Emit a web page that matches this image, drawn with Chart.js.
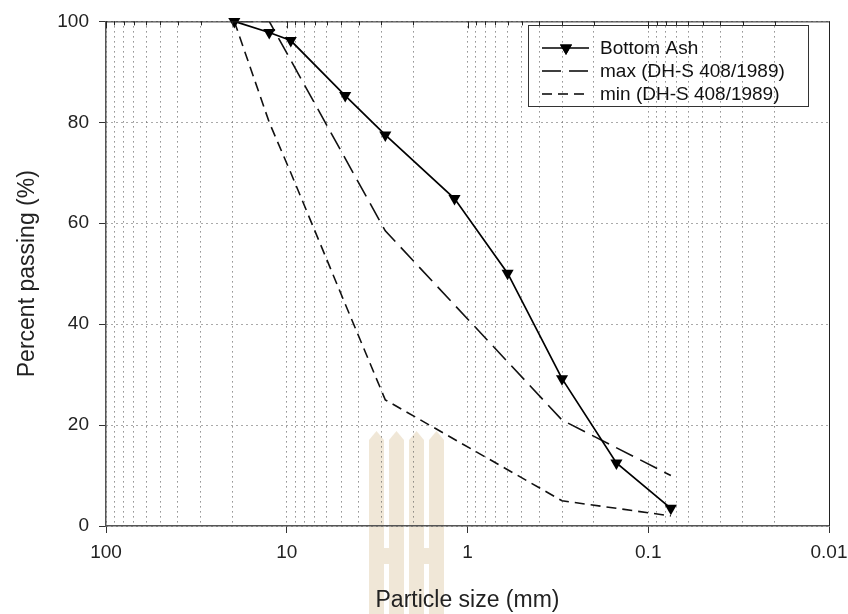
<!DOCTYPE html>
<html>
<head>
<meta charset="utf-8">
<script src="https://cdn.jsdelivr.net/npm/chart.js@4.4.1/dist/chart.umd.min.js"></script>
<style>
  html, body { margin: 0; padding: 0; background: #fff; }
  #wrap { width: 848px; height: 614px; }
</style>
</head>
<body>
<div id="wrap"><canvas id="sieveChart" width="848" height="614"></canvas></div>
<script>
// Grain size data (sieve size in mm, percent passing)
const ashSize = [19.5, 12.5, 9.5, 4.75, 2.85, 1.18, 0.6, 0.3, 0.15, 0.075];
const ashPassing = [100, 97.8, 96.2, 85.3, 77.5, 64.9, 50.1, 29.2, 12.5, 3.5];

const maxSize = [19.5, 12.5, 2.85, 0.3, 0.075];
const maxPassing = [100, 100, 58.5, 21, 10];

const minSize = [19.5, 12.5, 9.5, 4.75, 2.85, 0.3, 0.075];
const minPassing = [100, 80, 70, 44, 25, 5, 2];

const xMajor = [100, 10, 1, 0.1, 0.01];
const xLabels = ['100', '10', '1', '0.1', '0.01'];
const yTicks = [0, 20, 40, 60, 80, 100];

const seriesNames = ['Bottom Ash', 'max (DH-S 408/1989)', 'min (DH-S 408/1989)'];

const FONT = "'Liberation Sans', Arial, sans-serif";

// all 1..9 x 10^k positions between 0.01 and 100
const xTicks = [];
xMajor.slice(1).forEach(function(dec) {
  for (let k = 1; k <= 9; k++) xTicks.push(dec * k);
});
xTicks.push(100);

function toPoints(xs, ys) {
  return xs.map((x, i) => ({ x: x, y: ys[i] }));
}

function isMajor(v) {
  return xMajor.some(m => Math.abs(v - m) / m < 1e-6);
}

// Background and the faint logo behind the plot
const backdrop = {
  id: 'backdrop',
  beforeDraw(chart) {
    const ctx = chart.ctx;
    ctx.save();
    ctx.fillStyle = '#fff';
    ctx.fillRect(0, 0, chart.width, chart.height);
    ctx.fillStyle = 'rgba(226, 208, 176, 0.5)';
    const pillars = [[369, 384], [389, 404], [409, 424], [429, 444]];
    pillars.forEach(function(p) {
      ctx.beginPath();
      ctx.moveTo(p[0], 614);
      ctx.lineTo(p[0], 440);
      ctx.lineTo((p[0] + p[1]) / 2, 431);
      ctx.lineTo(p[1], 440);
      ctx.lineTo(p[1], 614);
      ctx.closePath();
      ctx.fill();
    });
    ctx.fillRect(384, 548, 5, 16);
    ctx.fillRect(424, 548, 5, 16);
    ctx.restore();
  }
};

// Top and right frame lines with inward ticks, plus the legend box
const frame = {
  id: 'frame',
  afterDraw(chart) {
    const ctx = chart.ctx;
    const a = chart.chartArea;
    const xs = chart.scales.x;
    ctx.save();
    ctx.strokeStyle = '#222';
    ctx.lineWidth = 1;
    ctx.beginPath();
    ctx.moveTo(a.left, a.top + 0.5);
    ctx.lineTo(a.right + 0.5, a.top + 0.5);
    ctx.lineTo(a.right + 0.5, a.bottom);
    ctx.stroke();
    xTicks.forEach(function(v) {
      const px = Math.round(xs.getPixelForValue(v)) + 0.5;
      const len = isMajor(v) ? 7 : 4;
      ctx.beginPath();
      ctx.moveTo(px, a.top);
      ctx.lineTo(px, a.top + len);
      ctx.stroke();
    });

    // legend
    const box = { left: 528.5, top: 25.5, right: 808.5, bottom: 106.5 };
    ctx.strokeStyle = '#333';
    ctx.lineWidth = 1;
    ctx.strokeRect(box.left, box.top, box.right - box.left, box.bottom - box.top);
    const rows = [48, 71, 94];
    ctx.font = '19px ' + FONT;
    ctx.textBaseline = 'middle';
    ctx.textAlign = 'left';
    chart.data.datasets.forEach(function(ds, i) {
      const y = rows[i];
      ctx.strokeStyle = '#000';
      ctx.lineWidth = 1.6;
      ctx.setLineDash(ds.borderDash || []);
      ctx.beginPath();
      ctx.moveTo(542, y);
      ctx.lineTo(589, y);
      ctx.stroke();
      ctx.setLineDash([]);
      if (ds.pointRadius > 0) {
        ctx.fillStyle = '#000';
        Chart.helpers.drawPoint(ctx, { pointStyle: 'triangle', rotation: 180, radius: 7 }, 566, y);
        ctx.fill();
      }
      ctx.fillStyle = '#111';
      ctx.fillText(ds.label, 600, y + 1);
    });
    ctx.restore();
  }
};

const ctx = document.getElementById('sieveChart').getContext('2d');

new Chart(ctx, {
  type: 'line',
  data: {
    datasets: [
      {
        label: seriesNames[0],
        data: toPoints(ashSize, ashPassing),
        borderColor: '#000',
        backgroundColor: '#000',
        borderWidth: 1.7,
        pointStyle: 'triangle',
        rotation: 180,
        pointRadius: 7,
        pointBorderWidth: 0,
        clip: false,
        order: 0
      },
      {
        label: seriesNames[1],
        data: toPoints(maxSize, maxPassing),
        borderColor: '#111',
        borderWidth: 1.6,
        borderDash: [19, 8],
        pointRadius: 0,
        order: 1
      },
      {
        label: seriesNames[2],
        data: toPoints(minSize, minPassing),
        borderColor: '#111',
        borderWidth: 1.6,
        borderDash: [10, 6],
        pointRadius: 0,
        order: 2
      }
    ]
  },
  options: {
    responsive: false,
    animation: false,
    layout: { padding: { top: 19, right: 19, left: 0, bottom: 0 } },
    elements: { line: { tension: 0 } },
    plugins: {
      legend: { display: false },
      tooltip: { enabled: false }
    },
    scales: {
      x: {
        type: 'logarithmic',
        reverse: true,
        min: 0.01,
        max: 100,
        afterBuildTicks: function(scale) {
          scale.ticks = xTicks.map(v => ({ value: v }));
        },
        afterFit: function(scale) {
          scale.height = 88;
        },
        ticks: {
          autoSkip: false,
          maxRotation: 0,
          padding: 8,
          color: '#222',
          font: { family: FONT, size: 19 },
          callback: function(value) {
            const i = xMajor.findIndex(m => Math.abs(value - m) / m < 1e-6);
            return i >= 0 ? xLabels[i] : '';
          }
        },
        grid: {
          color: '#555',
          lineWidth: 1,
          tickLength: 7,
          tickColor: function(c) {
            return c.tick && isMajor(c.tick.value) ? '#333' : 'rgba(0,0,0,0)';
          }
        },
        border: { display: true, color: '#555', width: 1.5, dash: [1, 4] },
        title: {
          display: true,
          text: 'Particle size (mm)',
          color: '#222',
          font: { family: FONT, size: 23 },
          padding: { top: 0, bottom: 0 }
        }
      },
      y: {
        min: 0,
        max: 100,
        afterBuildTicks: function(scale) {
          scale.ticks = yTicks.map(v => ({ value: v }));
        },
        afterFit: function(scale) {
          scale.width = 106;
        },
        ticks: {
          padding: 10,
          color: '#222',
          font: { family: FONT, size: 19 }
        },
        grid: {
          color: '#555',
          lineWidth: 1,
          tickLength: 7,
          tickColor: '#333'
        },
        border: { display: true, color: '#555', width: 1.5, dash: [1, 4] },
        title: {
          display: true,
          text: 'Percent passing (%)',
          color: '#222',
          font: { family: FONT, size: 23 },
          padding: { top: 14, bottom: 0 }
        }
      }
    }
  },
  plugins: [backdrop, frame]
});
</script>
</body>
</html>
